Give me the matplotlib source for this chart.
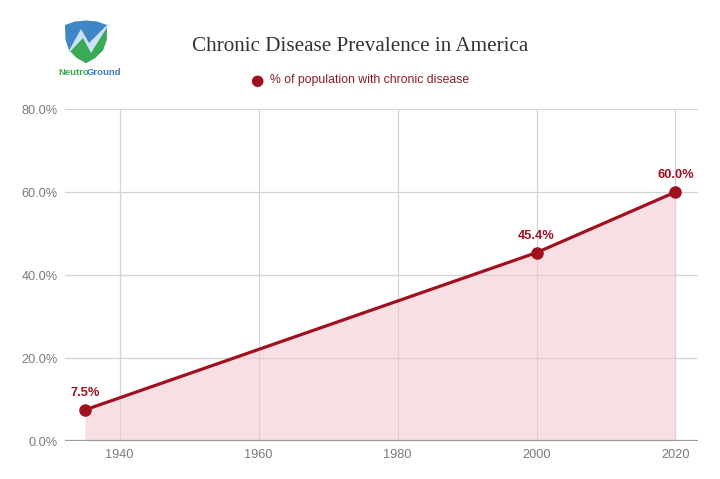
import matplotlib.pyplot as plt
import matplotlib.ticker as mtick
from matplotlib.patches import Polygon

# THE DATA
years = [1935, 2000, 2020]
prevalence = [7.5, 45.4, 60.0]
x_ticks = [1940, 1960, 1980, 2000, 2020]
y_ticks = [0, 20, 40, 60, 80]

red = '#a0101e'
grey_txt = '#7a7a7a'

fig = plt.figure(figsize=(7.2, 4.79), dpi=100, facecolor='w')
ax = fig.add_axes([0.090, 0.0793, 0.879, 0.693])

# Area + line + markers
ax.fill_between(years, prevalence, 0, color='#f3c6cc', alpha=0.55, lw=0, zorder=1)
ax.plot(years, prevalence, color=red, lw=2.3, zorder=3)
ax.plot(years, prevalence, 'o', color=red, ms=8, zorder=4)

# Data labels
for xv, yv in zip(years, prevalence):
    ax.annotate(f'{yv:.1f}%', (xv, yv), xytext=(0, 8), textcoords='offset points',
                ha='center', va='bottom', color=red, fontsize=9.3, fontweight='bold',
                family='Liberation Sans')

# Axes and grid
ax.set_xlim(1932.1, 2023.2)
ax.set_ylim(0, 80)
ax.xaxis.set_major_locator(mtick.FixedLocator(x_ticks))
ax.yaxis.set_major_locator(mtick.FixedLocator(y_ticks))
ax.yaxis.set_major_formatter(mtick.FuncFormatter(lambda v, p: f'{v:.1f}%'))
ax.grid(True, color='#d4d4d4', lw=0.9, zorder=0)
ax.set_axisbelow(True)
plt.setp(ax.spines.values(), visible=False)
ax.axhline(0, color='#9a9a9a', lw=1.6, zorder=5)
ax.tick_params(length=0, colors=grey_txt, labelsize=9.2)
ax.tick_params(axis='x', pad=6)
ax.tick_params(axis='y', pad=5)
for lab in ax.get_xticklabels() + ax.get_yticklabels():
    lab.set_family('Liberation Sans')

# Title and legend
fig.text(0.5, 0.903, 'Chronic Disease Prevalence in America', ha='center', va='center',
         fontsize=15.2, family='Liberation Serif', color='#333333')
fig.text(0.357, 0.832, '\u25CF', ha='center', va='center', fontsize=11, color=red)
fig.text(0.375, 0.832, '% of population with chronic disease', ha='left', va='center',
         fontsize=8.8, family='Liberation Sans', color='#8c1c24')

# Logo (rough shield with a bolt)
def to_fig(pts):
    return [(px / 720, 1 - py / 479) for px, py in pts]

shield_pts = [(65, 25), (75, 21.5), (86, 20.5), (97, 21.5), (107, 25), (106.5, 40),
              (103, 50), (95, 58), (86, 63), (77, 58), (69, 50), (65.5, 40)]
shield = Polygon(to_fig(shield_pts), closed=True, transform=fig.transFigure,
                 facecolor='#3f86c6', edgecolor='none')
fig.patches.append(shield)
green = Polygon(to_fig([(60, 62), (82, 36), (90, 50), (110, 24), (112, 70), (58, 70)]),
                closed=True, transform=fig.transFigure, facecolor='#3aaa55', edgecolor='none')
green.set_clip_path(shield)
fig.patches.append(green)
bolt = [(66, 56), (81, 29), (89, 43), (111, 21), (91, 53), (83, 38)]
fig.patches.append(Polygon(to_fig(bolt), closed=True, transform=fig.transFigure,
                           facecolor='#c9e2f5', edgecolor='none'))
fig.text(58 / 720, 1 - 72.5 / 479, 'Neutro', ha='left', va='center', fontsize=6.8,
         family='Liberation Sans', color='#3aaa55', fontweight='bold')
fig.text(86.5 / 720, 1 - 72.5 / 479, 'Ground', ha='left', va='center', fontsize=6.8,
         family='Liberation Sans', color='#3f7cc6', fontweight='bold')

plt.savefig('out.png', dpi=100)
